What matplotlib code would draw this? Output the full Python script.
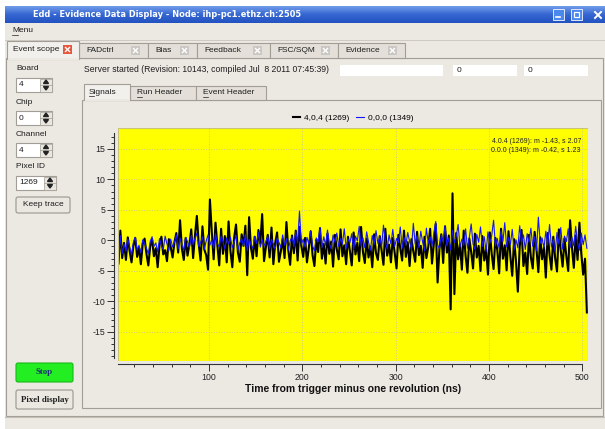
import matplotlib
matplotlib.use("Agg")
import matplotlib.pyplot as plt
import matplotlib.patches as mpatches
from matplotlib.ticker import MultipleLocator, FixedLocator
import numpy as np

plt.rcParams["font.family"] = ["Liberation Sans", "DejaVu Sans"]
plt.rcParams["axes.unicode_minus"] = False

# ---- data (sample every 2 ns) ----
t_first, t_last, t_step = 3, 505, 2

trace_404 = [
    -3.8, 1.6, -2.9, -0.4, -3.2, 0.5, -1.8, -3.6, -0.9, 0.4, -2.7, -1.2, -3.9, -0.6, 0.3, -2.2, -4.1, -1.0, 0.2, -2.6,
    -1.3, -4.4, -0.8, 0.6, -2.3, -1.6, -3.4, 0.2, -1.1, -2.8, -0.3, 1.2, -2.0, 3.3, -1.4, -3.2, 0.4, -2.5, -0.7, 1.8,
    -2.9, 0.8, 4.0, -0.6, -3.3, 2.3, -1.5, -2.4, -4.8, 6.7, 1.4, -3.1, 2.9, -0.8, -4.1, 1.9, -2.2, 0.7, -3.6, 3.1,
    -1.7, -4.4, 0.5, 2.6, -2.0, -3.5, 1.0, -0.9, 2.4, -5.7, 3.8, -1.2, -3.0, 0.6, -2.6, 1.7, -0.5, 4.3, -3.4, -1.1,
    0.9, -2.8, 2.1, -3.9, -0.4, 1.3, -3.5, -1.8, 0.2, -2.9, 3.0, -1.6, -4.0, 0.8, -2.1, 1.6, -3.3, 2.2, -0.9, -2.7,
    0.4, -3.6, -1.2, 1.5, -2.4, -4.2, 0.1, -1.9, 2.0, -3.0, -0.6, -3.8, 1.1, -2.2, -0.2, -4.3, 0.9, -1.5, -3.1, 1.8,
    -2.6, -0.8, -3.9, 0.6, -1.7, -4.1, 1.3, -2.3, -0.4, -3.4, 2.2, -1.9, -3.7, 0.3, -2.8, -1.0, -4.4, 1.0, -2.1, -3.2,
    0.7, -1.6, -4.0, 1.9, -2.5, -0.7, -3.6, 0.4, -2.0, -4.6, 0.9, -1.3, -3.3, 1.6, -2.7, -0.3, -4.2, 0.2, -1.8, -3.5,
    1.4, -2.4, -0.9, -4.5, 0.6, -2.9, -1.1, 1.9, -3.8, -0.5, 2.7, -6.9, -1.4, 1.0, -3.7, 2.3, -2.0, 0.8, -11.3, 7.7,
    -8.8, 1.2, -3.1, -0.6, -4.8, 1.6, -2.5, -5.3, 0.3, -1.9, -4.6, 1.1, -2.8, -0.9, -5.0, 0.7, -3.3, -1.4, -5.6, 1.3,
    -2.2, -4.7, 0.4, -1.6, -5.4, 1.9, -3.0, -0.8, -4.9, 1.5, -2.6, -5.8, 0.2, -3.4, -8.4, -1.0, 1.7, -4.2, -2.0, -5.5,
    0.9, -2.8, -4.6, 1.4, -1.5, -5.2, 0.5, -3.1, -1.1, -6.1, 1.2, -2.4, -4.8, 0.6, -2.9, -5.1, 1.8, -1.7, -4.3, 0.3,
    -2.6, -5.0, 3.3, -1.2, -4.5, 0.8, -3.2, 2.9, -2.1, -5.6, -3.0, -11.8,
]

trace_000 = [
    -3.5, 0.8, -2.2, -0.6, -1.8, 0.2, -1.1, -2.4, -0.3, 0.5, -1.6, -0.8, -2.0, 0.1, -0.5, -1.3, -2.2, -0.2, 0.6, -1.0,
    -0.4, -1.9, 0.3, -0.9, -1.5, 0.7, -0.6, -1.7, 0.2, -1.1, -0.3, 0.9, -1.4, 0.4, -0.8, -1.6, 0.5, -0.2, -1.2, 0.8,
    -0.7, 0.3, 1.2, -1.0, -0.4, 0.6, -1.5, -0.1, 0.9, -0.8, 0.2, -1.3, 1.1, -0.5, -1.1, 0.7, -0.2, -1.4, 0.4, -0.6,
    0.5, -1.2, -0.3, 0.8, -1.6, -0.4, 0.3, -1.0, 1.0, -1.7, 0.2, -0.7, -1.3, 0.6, -0.5, 1.3, -1.1, 0.1, -0.9, -0.2,
    0.7, -1.4, 0.2, -0.6, -1.5, 0.4, -0.3, -1.2, 0.9, -0.8, 0.3, -1.6, -0.1, 0.6, -1.0, 1.4, -0.4, 4.8, -0.7, 0.2,
    -1.1, 0.5, -0.6, 1.5, -0.9, -1.7, 0.4, -0.2, 2.1, -1.2, 0.6, -0.8, 1.7, -0.5, -1.4, 0.9, -0.3, 1.2, -1.0, 0.3,
    -0.6, 1.9, -1.3, 0.2, -0.4, 1.1, -1.5, 0.7, -0.1, 2.3, -0.9, 0.4, -1.2, 1.4, -0.3, -1.6, 0.8, -0.7, 1.6, -0.5,
    0.6, -1.1, 2.5, -0.2, -1.4, 0.9, -0.6, 1.8, -1.0, 0.3, -0.4, 2.2, -1.3, 0.5, -0.8, 1.3, -0.2, -1.5, 2.8, -0.6,
    0.8, -1.2, 1.5, -0.3, -1.7, 2.0, -0.5, 0.6, -1.0, 1.2, 3.1, -0.7, -1.4, 0.9, -0.2, 2.4, -0.9, 0.4, -1.6, 1.7,
    -0.4, 0.7, 2.6, -1.1, 0.2, -0.8, 1.9, -1.3, 0.5, 2.7, -0.6, -1.5, 1.0, -0.3, 2.2, -1.0, 0.6, -1.8, 1.4, -0.5,
    0.8, 3.3, -0.9, 0.3, -1.4, 1.6, -0.2, 2.9, -1.1, 0.5, -0.7, 1.8, -1.6, 0.1, -1.2, 2.4, -0.4, 0.9, -1.5, 1.1,
    -0.3, 2.0, -1.0, 0.6, -1.7, 3.8, -0.5, 0.4, -1.3, 1.5, -0.8, 2.6, -1.1, 0.2, -1.9, 1.3, -0.6, 2.1, -1.4, 0.7,
    -0.2, 1.9, -1.2, 0.5, -0.9, 2.3, -0.4, -1.6, 1.2, -0.7, 0.9, -1.3,
]

trace_names = ["4,0,4 (1269)", "0,0,0 (1349)"]
stats_text = ["4.0.4 (1269): m -1.43, s 2.07", "0.0.0 (1349): m -0.42, s 1.23"]
y_major = [-15, -10, -5, 0, 5, 10, 15]

time_ns = np.arange(t_first, t_last + 1, t_step)

W, H = 605, 429
BG = "#ece9e3"
EDGE = "#a29e96"

fig = plt.figure(figsize=(W / 100, H / 100), dpi=100)
fig.patch.set_facecolor("white")

# pixel-space overlay for the window chrome
gui = fig.add_axes([0, 0, 1, 1])
gui.axis("off")


def box(x0, y0, x1, y1, fc, ec="none", lw=0.8, z=1, round_=False):
    if round_:
        p = mpatches.FancyBboxPatch((x0, y0), x1 - x0, y1 - y0,
                                    boxstyle="round,pad=0,rounding_size=2",
                                    facecolor=fc, edgecolor=ec, linewidth=lw, zorder=z)
    else:
        p = mpatches.Rectangle((x0, y0), x1 - x0, y1 - y0,
                               facecolor=fc, edgecolor=ec, linewidth=lw, zorder=z)
    gui.add_patch(p)


def txt(x, y, s, size=6, z=5, **kw):
    kw.setdefault("va", "center")
    kw.setdefault("color", "#1e1e1e")
    gui.text(x, y, s, fontsize=size, zorder=z, **kw)


def close_icon(x, y, fc):
    box(x, y, x + 9, y + 9, fc, ec="none", z=4)
    gui.plot([x + 2.5, x + 6.5], [y + 2.5, y + 6.5], color="white", lw=1.0, zorder=5)
    gui.plot([x + 2.5, x + 6.5], [y + 6.5, y + 2.5], color="white", lw=1.0, zorder=5)


# window body
box(5, 6, W, H, BG)

# title bar with a vertical gradient
cols = matplotlib.colors.LinearSegmentedColormap.from_list(
    "bar", ["#6f9be9", "#3566d2", "#2253c0"])
gui.imshow(np.linspace(0, 1, 20).reshape(-1, 1), cmap=cols, aspect="auto",
           extent=(5, W, 23, 6), zorder=2, interpolation="bilinear")
txt(33, 14.5, "Edd - Evidence Data Display - Node: ihp-pc1.ethz.ch:2505",
    size=6.6, color="white", fontweight="bold", family="DejaVu Sans",
    fontstretch="condensed", z=6)
box(553, 9, 564, 20, "#4b88ee", ec="#dfe8fb", lw=0.7, z=3)
gui.plot([556, 560], [17, 17], color="white", lw=1.2, zorder=5)
box(571, 9, 582, 20, "#4b88ee", ec="#dfe8fb", lw=0.7, z=3)
box(574, 12, 579, 17, "none", ec="white", lw=0.9, z=5)
gui.plot([595, 601], [12, 18], color="white", lw=1.4, zorder=5)
gui.plot([595, 601], [18, 12], color="white", lw=1.4, zorder=5)

# menu bar
txt(12, 31, "Menu")
gui.plot([12, 18], [34.5, 34.5], color="#1e1e1e", lw=0.5, zorder=5)
gui.plot([5, W], [40, 40], color="#c9c5bd", lw=0.6, zorder=2)

# outer tab pane and tabs
box(6, 58, 603, 416, BG, ec=EDGE, z=2)
tabs = [("FADctrl", 79, 148), ("Bias", 148, 197), ("Feedback", 197, 270),
        ("FSC/SQM", 270, 338), ("Evidence", 338, 405)]
for name, x0, x1 in tabs:
    box(x0, 43, x1, 58, "#e4e0d9", ec=EDGE, z=2)
    txt(x0 + 7, 50.5, name)
    close_icon(x1 - 17, 46, "#c9c7c3")
box(7, 41, 79, 58.6, "#f2f0ec", ec=EDGE, z=3)
box(7.5, 57.5, 78.5, 59.5, BG, z=3)
txt(13, 49.5, "Event scope", z=6)
close_icon(63, 45, "#e6573d")

# left controls
spins = [("Board", 69, "4", 52), ("Chip", 102, "0", 52),
         ("Channel", 134, "4", 52), ("Pixel ID", 167, "1269", 56)]
for lab, y, val, x1 in spins:
    txt(16, y, lab)
    box(16, y + 9, x1, y + 23, "white", ec=EDGE, z=3)
    box(x1 - 12, y + 9.5, x1 - 0.5, y + 22.5, "#e9e6e0", ec=EDGE, lw=0.5, z=4)
    gui.plot([x1 - 12, x1], [y + 16, y + 16], color=EDGE, lw=0.5, zorder=5)
    gui.fill([x1 - 8.5, x1 - 3.5, x1 - 6], [y + 14.5, y + 14.5, y + 11], color="#222", zorder=6)
    gui.fill([x1 - 8.5, x1 - 3.5, x1 - 6], [y + 17.5, y + 17.5, y + 21], color="#222", zorder=6)
    txt(19, y + 16, val, z=6)

box(16, 197, 70, 213, "#ebe8e2", ec="#9a968e", z=3, round_=True)
txt(43, 205, "Keep trace", ha="center", z=6)

box(16, 363, 73, 382, "#22ee22", ec="#19b819", z=3, round_=True)
txt(44.5, 372.5, "Stop", ha="center", family="Liberation Serif", fontweight="bold",
    size=6.3, color="#1c3272", z=6)
box(16, 390, 73, 409, "#ebe8e2", ec="#9a968e", z=3, round_=True)
txt(44.5, 399.5, "Pixel display", ha="center", family="Liberation Serif",
    fontweight="bold", size=6.3, color="#1e1e1e", z=6)

# status line and fields
txt(84, 70, "Server started (Revision: 10143, compiled Jul  8 2011 07:45:39)", size=6.2)
box(340, 65, 443, 76, "white", z=3)
box(453, 65, 517, 76, "white", z=3)
txt(457, 70.5, "0", z=6)
box(524, 65, 588, 76, "white", z=3)
txt(528, 70.5, "0", z=6)

# inner tab pane
box(82, 99.5, 601, 408, BG, ec=EDGE, z=3)
inner = [("Run Header", 130, 196), ("Event Header", 196, 266)]
for name, x0, x1 in inner:
    box(x0, 86, x1, 99.5, "#e4e0d9", ec=EDGE, z=3)
    txt(x0 + 7, 93, name, z=6)
    gui.plot([x0 + 7, x0 + 11.5], [96.5, 96.5], color="#1e1e1e", lw=0.5, zorder=6)
box(84, 84, 130, 100, "#f2f0ec", ec=EDGE, z=4)
box(84.5, 99, 129.5, 101, BG, z=4)
txt(89, 92, "Signals", z=6)
gui.plot([89, 93.5], [95.5, 95.5], color="#1e1e1e", lw=0.5, zorder=6)

gui.plot([5, W], [417, 417], color="#c4c0b8", lw=0.8, zorder=2)

gui.set_xlim(0, W)
gui.set_ylim(H, 0)

# ---- the scope plot ----
ax = fig.add_axes([118 / W, 1 - 361 / H, 470 / W, 233 / H])
ax.set_facecolor("#ffff00")
ax.plot(time_ns, trace_404, color="black", lw=1.5, label=trace_names[0], zorder=3)
ax.plot(time_ns, trace_000, color="#1515ff", lw=0.8, label=trace_names[1], zorder=4)

ax.set_xlim(2.5, 506.2)
ax.set_ylim(-19.75, 18.4)

for side in ["top", "right"]:
    ax.spines[side].set_visible(False)
ax.spines["left"].set_position(("outward", 3.2))
ax.spines["bottom"].set_position(("outward", 1.8))
ax.spines["left"].set_bounds(-19.2, 17.6)
ax.spines["bottom"].set_bounds(2.5, 500)
for side in ["left", "bottom"]:
    ax.spines[side].set_color("#333333")
    ax.spines[side].set_linewidth(0.8)

ax.yaxis.set_major_locator(FixedLocator(y_major))
ax.yaxis.set_minor_locator(FixedLocator(list(range(-19, 18))))
ax.xaxis.set_major_locator(MultipleLocator(100))
ax.xaxis.set_minor_locator(MultipleLocator(20))
ax.tick_params(which="both", direction="out", colors="#333333", labelcolor="#222222",
               labelsize=6.3, width=0.7)
ax.tick_params(which="major", length=5)
ax.tick_params(which="minor", length=2.2)
ax.tick_params(axis="y", pad=1)
ax.tick_params(axis="x", pad=2)
ax.grid(True, which="major", ls=":", color="#c9c98a", lw=0.7, zorder=1)

ax.set_xlabel("Time from trigger minus one revolution (ns)", fontsize=7.5,
              fontweight="bold", labelpad=1.5, color="#111111")

ax.add_patch(mpatches.Rectangle((0, 0), 1, 1, transform=ax.transAxes, fill=False,
                                edgecolor="#c8c27a", lw=0.8, zorder=5))

leg = ax.legend(loc="lower center", bbox_to_anchor=(0.5, 1.0), ncol=2, frameon=False,
                fontsize=6, handlelength=0.9, handletextpad=0.5, columnspacing=0.8,
                borderaxespad=0.3)
ax.text(0.985, 0.955, "\n".join(stats_text), transform=ax.transAxes, ha="right",
        va="top", fontsize=5, color="#222222", linespacing=1.25, zorder=6)

fig.savefig("out.png", dpi=100, facecolor=fig.get_facecolor())
